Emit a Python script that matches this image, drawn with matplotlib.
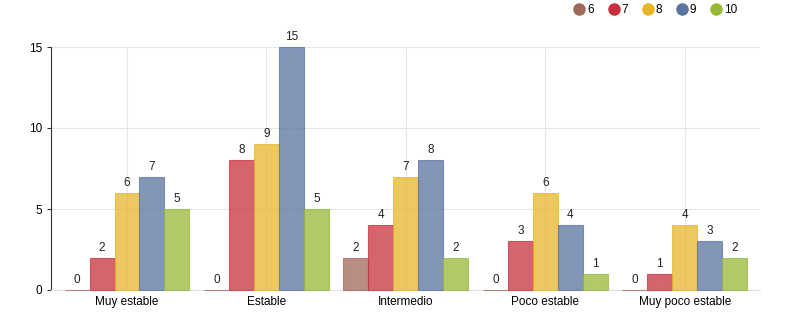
import numpy as np
import matplotlib.pyplot as plt
from matplotlib.lines import Line2D

# Datos
categorias = ['Muy estable', 'Estable', 'Intermedio', 'Poco estable', 'Muy poco estable']
series = ['6', '7', '8', '9', '10']
v6 = [0, 0, 2, 0, 0]
v7 = [2, 8, 4, 3, 1]
v8 = [6, 9, 7, 6, 4]
v9 = [7, 15, 8, 4, 3]
v10 = [5, 5, 2, 1, 2]
valores = [v6, v7, v8, v9, v10]

colores = ['#a0675b', '#c8303d', '#e8b52a', '#5a73a0', '#98b838']

plt.rcParams['font.family'] = ['Liberation Sans', 'DejaVu Sans']

fig = plt.figure(figsize=(8, 3.24), dpi=100)
ax = fig.add_axes([51 / 800, 34 / 324, 709 / 800, 243 / 324])

x = np.arange(len(categorias))
ancho = 0.179
for i, (vals, col) in enumerate(zip(valores, colores)):
    pos = x + (i - 2) * ancho
    ax.bar(pos, vals, ancho, color=col, alpha=0.75,
           edgecolor=col, linewidth=0.8, zorder=3, clip_on=False)
    for p, v in zip(pos, vals):
        ax.text(p, v + 0.25, str(v), ha='center', va='bottom', fontsize=8.5, color='#222222')

ax.set_xlim(-0.545, 4.54)
ax.set_ylim(0, 15)
ax.set_yticks([0, 5, 10, 15])
ax.set_xticks(x)
ax.set_xticklabels(categorias, fontsize=8.5)
ax.tick_params(axis='y', labelsize=8.5, length=3, color='#333333')
ax.tick_params(axis='x', length=0, pad=4)
ax.grid(True, color='#e6e6e6', linewidth=0.8, zorder=0)
for s in ['top', 'right']:
    ax.spines[s].set_visible(False)
ax.spines['bottom'].set_color('#e0e0e0')
ax.spines['left'].set_color('#333333')
ax.spines['left'].set_linewidth(0.8)

handles = [Line2D([], [], marker='o', linestyle='', markersize=8,
                  markerfacecolor=c, markeredgecolor=c) for c in colores]
fig.legend(handles, series, loc='upper right', bbox_to_anchor=(0.935, 1.02), ncol=5,
           frameon=False, fontsize=8.5, handlelength=1.0, handletextpad=0.15,
           columnspacing=1.2)

fig.savefig('out.png', dpi=100)
